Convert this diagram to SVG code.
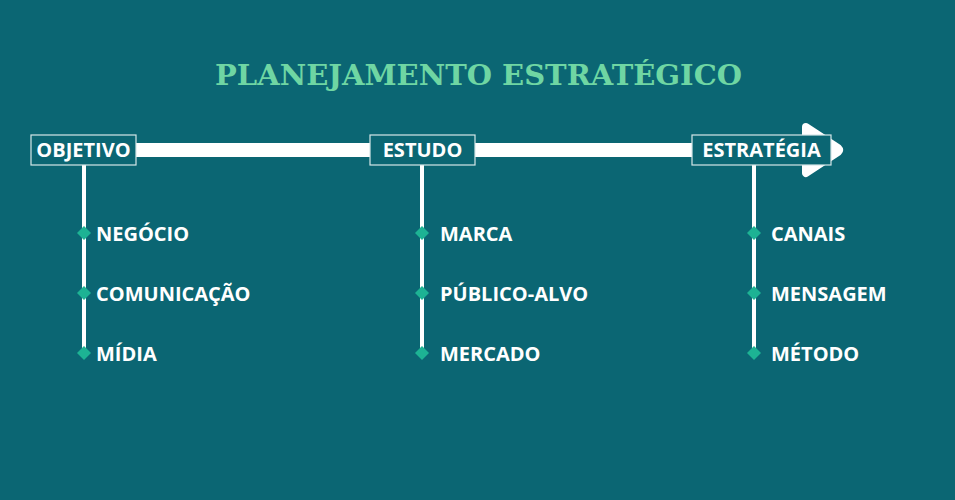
<svg xmlns="http://www.w3.org/2000/svg" width="955" height="500" viewBox="0 0 955 500">
<style>
.title{font-family:"DejaVu Serif","Liberation Serif",serif;font-weight:bold;font-size:28px;fill:#6fd6a3}
.box{fill:#0b6673;stroke:#d6e6e8;stroke-width:1.2}
.btxt{font-family:"Open Sans","Noto Sans",sans-serif;font-weight:bold;font-size:20px;fill:#ffffff}
.itxt{font-family:"Open Sans","Noto Sans",sans-serif;font-weight:bold;font-size:20px;fill:#ffffff}
.vline{stroke:#ffffff;stroke-width:4}
.dia{fill:#1db394}
</style>
<rect width="955" height="500" fill="#0b6673"/>
<text class="title" x="215" y="85" textLength="527" lengthAdjust="spacingAndGlyphs">PLANEJAMENTO ESTRATÉGICO</text>
<g id="connectors">
<rect x="130" y="143" width="680" height="14" fill="#ffffff"/>
<path d="M806,127 L838,148 Q840,150 838,152 L806,173 Z" fill="#ffffff" stroke="#ffffff" stroke-width="8" stroke-linejoin="round"/>
<line class="vline" x1="84" y1="165" x2="84" y2="353"/>
<line class="vline" x1="422" y1="165" x2="422" y2="353"/>
<line class="vline" x1="754" y1="165" x2="754" y2="353"/>
</g>
<g id="objetivo">
<rect class="box" x="31" y="135" width="105" height="30"/>
<text class="btxt" x="83.5" y="157" text-anchor="middle">OBJETIVO</text>
</g>
<g id="estudo">
<rect class="box" x="370" y="135" width="105" height="30"/>
<text class="btxt" x="422.5" y="157" text-anchor="middle">ESTUDO</text>
</g>
<g id="estrategia">
<rect class="box" x="692" y="135" width="139" height="30"/>
<text class="btxt" x="761.5" y="157" text-anchor="middle">ESTRATÉGIA</text>
</g>
<g id="negocio"><path class="dia" d="M84,226 L91,233 L84,240 L77,233 Z"/><text class="itxt" x="96" y="241">NEGÓCIO</text></g>
<g id="comunicacao"><path class="dia" d="M84,286 L91,293 L84,300 L77,293 Z"/><text class="itxt" x="96" y="301">COMUNICAÇÃO</text></g>
<g id="midia"><path class="dia" d="M84,346 L91,353 L84,360 L77,353 Z"/><text class="itxt" x="96" y="361">MÍDIA</text></g>
<g id="marca"><path class="dia" d="M422,226 L429,233 L422,240 L415,233 Z"/><text class="itxt" x="440" y="241">MARCA</text></g>
<g id="publico"><path class="dia" d="M422,286 L429,293 L422,300 L415,293 Z"/><text class="itxt" x="440" y="301">PÚBLICO-ALVO</text></g>
<g id="mercado"><path class="dia" d="M422,346 L429,353 L422,360 L415,353 Z"/><text class="itxt" x="440" y="361">MERCADO</text></g>
<g id="canais"><path class="dia" d="M754,226 L761,233 L754,240 L747,233 Z"/><text class="itxt" x="771" y="241">CANAIS</text></g>
<g id="mensagem"><path class="dia" d="M754,286 L761,293 L754,300 L747,293 Z"/><text class="itxt" x="771" y="301">MENSAGEM</text></g>
<g id="metodo"><path class="dia" d="M754,346 L761,353 L754,360 L747,353 Z"/><text class="itxt" x="771" y="361">MÉTODO</text></g>
</svg>
